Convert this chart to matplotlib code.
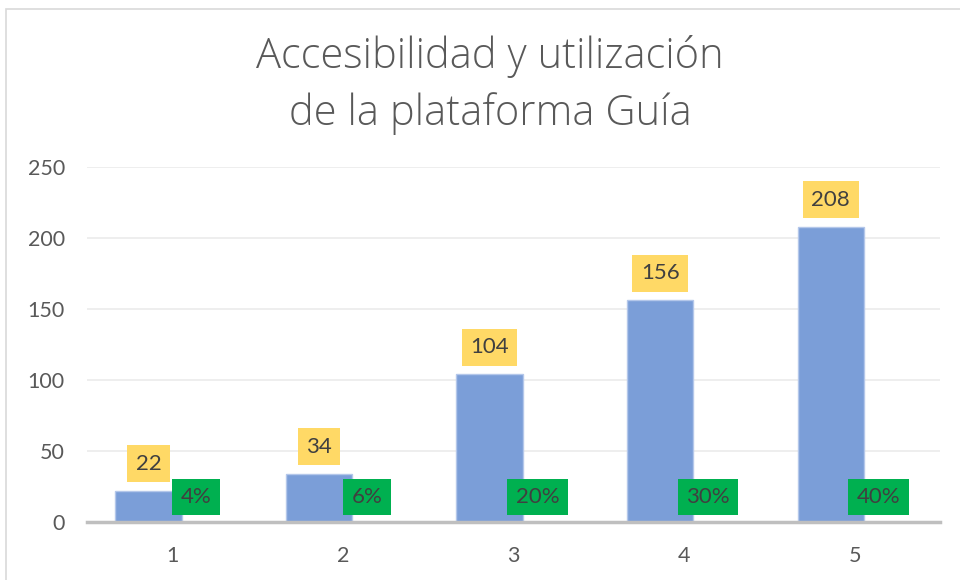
import matplotlib.pyplot as plt
import numpy as np
from matplotlib.patches import Rectangle

# datos del grafico
categorias = ['1', '2', '3', '4', '5']
usuarios = [22, 34, 104, 156, 208]
porcentajes = ['4%', '6%', '20%', '30%', '40%']
y_ticks = [0, 50, 100, 150, 200, 250]

plt.rcParams['font.family'] = ['Lato', 'DejaVu Sans']

fig = plt.figure(figsize=(9.6, 5.8), dpi=100)
ax = fig.add_axes([87 / 960, 1 - 522 / 580, 853 / 960, (522 - 167) / 580])

# borde del area del grafico (recortado a la derecha y abajo)
fig.patches.append(Rectangle((6 / 960, -0.1), 1.2, 1 - 9 / 580 + 0.1, transform=fig.transFigure,
                             fill=False, edgecolor='#D9D9D9', linewidth=1.2))

x = np.arange(len(categorias))
desplazamiento = 0.14
ancho = 0.39
ax.bar(x - desplazamiento, usuarios, width=ancho, color='#7B9ED8',
       edgecolor='#B4C7EA', linewidth=1, zorder=3)

# etiquetas amarillas (valores) y verdes (porcentajes)
for xi, v, p in zip(x, usuarios, porcentajes):
    ax.annotate(str(v), xy=(xi - desplazamiento, v), xytext=(0, 19.5), textcoords='offset points',
                ha='center', va='center', fontsize=16, color='#404040', zorder=5,
                bbox=dict(boxstyle='square,pad=0.38', fc='#FFD966', ec='none'))
    ax.annotate(p, xy=(xi + desplazamiento, 0), xytext=(0, 18), textcoords='offset points',
                ha='center', va='center', fontsize=16, color='#404040', zorder=5,
                bbox=dict(boxstyle='square,pad=0.38', fc='#00B050', ec='none'))

ax.set_xlim(-0.5, len(categorias) - 0.5)
ax.set_ylim(0, 250)
ax.set_yticks(y_ticks)
ax.set_xticks(x)
ax.set_xticklabels(categorias)
ax.tick_params(axis='both', length=0, labelsize=15.5, labelcolor='#595959')
ax.tick_params(axis='x', pad=17)
ax.tick_params(axis='y', pad=16)
ax.grid(axis='y', color='#EBEBEB', linewidth=1.2, zorder=0)
for s in ['top', 'right', 'left']:
    ax.spines[s].set_visible(False)
ax.spines['bottom'].set_color('#BFBFBF')
ax.spines['bottom'].set_linewidth(2.5)
ax.spines['bottom'].set_zorder(4)

fig.text(490 / 960, 1 - 85 / 580, 'Accesibilidad y utilización\nde la plataforma Guía', ha='center', va='center',
         fontsize=30, color='#595959', fontweight='light', linespacing=1.45,
         family=['Open Sans', 'DejaVu Sans'])

plt.savefig('out.png', dpi=100)
